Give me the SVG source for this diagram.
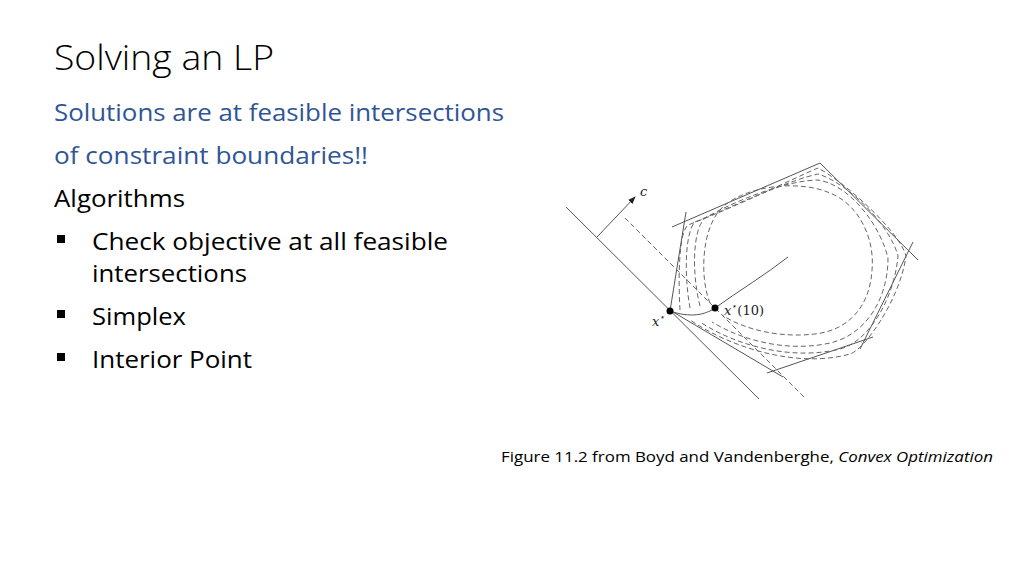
<svg xmlns="http://www.w3.org/2000/svg" width="1024" height="576" viewBox="0 0 1024 576">
<style>
.t{font-family:"Open Sans",Lato,sans-serif;fill:#000}
.b{fill:#2F5597}
.s{stroke:#555;stroke-width:1;fill:none}
.d{stroke:#666;stroke-width:1;fill:none;stroke-dasharray:5,3}
.m{font-family:"DejaVu Serif",serif;font-style:italic;fill:#222}
</style>
<defs><marker id="a" markerWidth="8" markerHeight="8" refX="7" refY="4" orient="auto"><path d="M0,1 L8,4 L0,7 Z" fill="#222"/></marker></defs>
<rect width="1024" height="576" fill="#fff"/>
<g id="text">
<text class="t" x="54" y="70" font-size="34" font-weight="300" textLength="220" lengthAdjust="spacingAndGlyphs">Solving an LP</text>
<text class="t b" x="54" y="121" font-size="23" textLength="450" lengthAdjust="spacingAndGlyphs">Solutions are at feasible intersections</text>
<text class="t b" x="54" y="164" font-size="23" textLength="314" lengthAdjust="spacingAndGlyphs">of constraint boundaries!!</text>
<text class="t" x="54" y="207" font-size="23" textLength="131" lengthAdjust="spacingAndGlyphs">Algorithms</text>
<rect x="57" y="235" width="8" height="8"/><text class="t" x="92" y="250" font-size="23" textLength="356" lengthAdjust="spacingAndGlyphs">Check objective at all feasible</text>
<text class="t" x="92" y="282" font-size="23" textLength="155" lengthAdjust="spacingAndGlyphs">intersections</text>
<rect x="57" y="310" width="8" height="8"/><text class="t" x="92" y="325" font-size="23" textLength="94" lengthAdjust="spacingAndGlyphs">Simplex</text>
<rect x="57" y="353" width="8" height="8"/><text class="t" x="92" y="368" font-size="23" textLength="160" lengthAdjust="spacingAndGlyphs">Interior Point</text>
<text class="t" x="501" y="462" font-size="15" textLength="492" lengthAdjust="spacingAndGlyphs">Figure 11.2 from Boyd and Vandenberghe, <tspan font-style="italic">Convex Optimization</tspan></text>
</g>
<g id="figure">
<line class="s" x1="672" y1="227" x2="820" y2="163"/>
<line class="s" x1="820" y1="163" x2="918" y2="260"/>
<line class="s" x1="913" y1="242" x2="860" y2="349"/>
<line class="s" x1="873" y1="337" x2="767" y2="373"/>
<line class="s" x1="783" y1="377" x2="668" y2="309"/>
<line class="s" x1="670" y1="311" x2="686" y2="212"/>
<line class="s" x1="566" y1="207" x2="759" y2="399"/>
<line class="s" x1="597" y1="237" x2="635" y2="197" stroke="#222" marker-end="url(#a)"/>
<line class="d" x1="625" y1="218" x2="805" y2="398"/>
<path class="d" d="M710,303 C700,280 700,225 725,205 C750,185 800,180 830,193 C860,205 875,240 872,270 C870,305 850,330 815,334 C780,338 745,330 722,315"/>
<path class="d" d="M700,306 C692,275 692,230 705,218 C740,198 790,180 818,180 C850,185 880,225 888,258 C888,300 865,335 830,343 C790,352 745,342 712,322"/>
<path class="d" d="M690,308 C684,275 685,232 695,222 C740,203 790,180 818,174 C848,183 890,225 898,256 C894,300 868,342 840,349 C795,360 740,348 700,322"/>
<path class="d" d="M680,310 C678,275 679,232 688,225 C740,205 790,180 818,168 C846,183 900,232 906,256 C900,300 864,350 850,354 C800,368 735,350 690,320"/>
<path class="s" d="M670,311 C690,318 705,315 715,308 C740,290 765,275 788,257"/>
<circle cx="670" cy="311" r="3.5" fill="#000"/>
<circle cx="715" cy="308" r="3.5" fill="#000"/>
<text class="m" x="640" y="196" font-size="13">c</text>
<text class="m" x="652" y="326" font-size="13">x<tspan font-size="9" dy="-6">⋆</tspan></text>
<text class="m" x="724" y="315" font-size="13">x<tspan font-size="9" dy="-6">⋆</tspan><tspan dy="6" font-style="normal">(10)</tspan></text>
</g>
</svg>
